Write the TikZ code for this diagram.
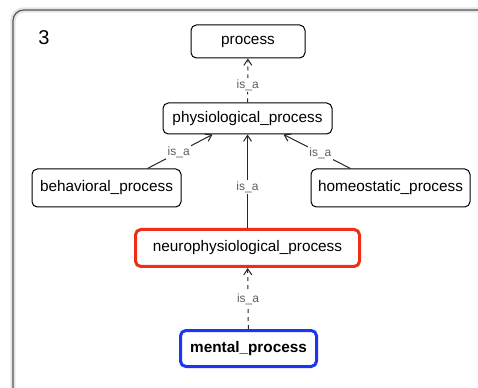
\documentclass[tikz,border=0pt]{standalone}
\usepackage{fontspec}
\setmainfont{Liberation Sans}
\usetikzlibrary{arrows.meta}
\definecolor{framegray}{RGB}{85,85,85}
\definecolor{hired}{RGB}{240,45,25}
\definecolor{hiblue}{RGB}{25,55,240}
\definecolor{labgray}{RGB}{95,95,95}

\begin{document}
\begin{tikzpicture}[x=0.75pt, y=-0.75pt]
	\tikzset{concept/.style={draw, rounded corners=4pt, line width=0.75pt, inner sep=0pt, font=\fontsize{11.5}{14}\selectfont},
		isa/.style={draw=black!85, line width=0.75pt, -{Straight Barb[length=4.5pt,width=6pt]}},
		lbl/.style={fill=white, inner sep=1pt, text=labgray, font=\fontsize{9}{11}\selectfont}}
	
	\useasboundingbox (0,0) rectangle (478,388);
	\clip (0,0) rectangle (478,388);
	\draw[black!10, line width=4pt, rounded corners=8pt] (13,10) rectangle (500,410);
	\draw[framegray, line width=0.9pt, rounded corners=8pt] (13,10) rectangle (500,410);
	\node[font=\fontsize{15}{18}\selectfont] (num) at (44,37.5) {3};
	
	\node[concept, minimum width=85.5pt, minimum height=24.75pt] (process) at (248,41.5) {process};
	\node[concept, minimum width=126.75pt, minimum height=23.25pt] (physio) at (247.5,118.5) {physiological\_process};
	\node[concept, minimum width=111.75pt, minimum height=28.5pt] (behav) at (106.5,188) {behavioral\_process};
	\node[concept, minimum width=119.25pt, minimum height=28.5pt] (homeo) at (390.5,188) {homeostatic\_process};
	\node[concept, draw=hired, line width=2.25pt, minimum width=168pt, minimum height=27.75pt] (neuro) at (247.5,248) {neurophysiological\_process};
	\node[concept, draw=hiblue, line width=2.25pt, minimum width=102pt, minimum height=27pt, font=\fontsize{11.5}{14}\selectfont\bfseries] (mental) at (248.5,348.5) {mental\_process};
	
	\draw[isa, dashed] (physio) -- node[lbl, pos=0.4] {is\_a} (process);
	\draw[isa] ([xshift=30.75pt]behav.north) -- node[lbl, pos=0.48] {is\_a} ([xshift=-26.25pt]physio.south);
	\draw[isa] ([xshift=-30pt]homeo.north) -- node[lbl, pos=0.45] {is\_a} ([xshift=27pt]physio.south);
	\draw[isa] (neuro) -- node[lbl, pos=0.44] {is\_a} (physio);
	\draw[isa, dashed] (mental) -- node[lbl, pos=0.48] {is\_a} (neuro);
	
\end{tikzpicture}
\end{document}
